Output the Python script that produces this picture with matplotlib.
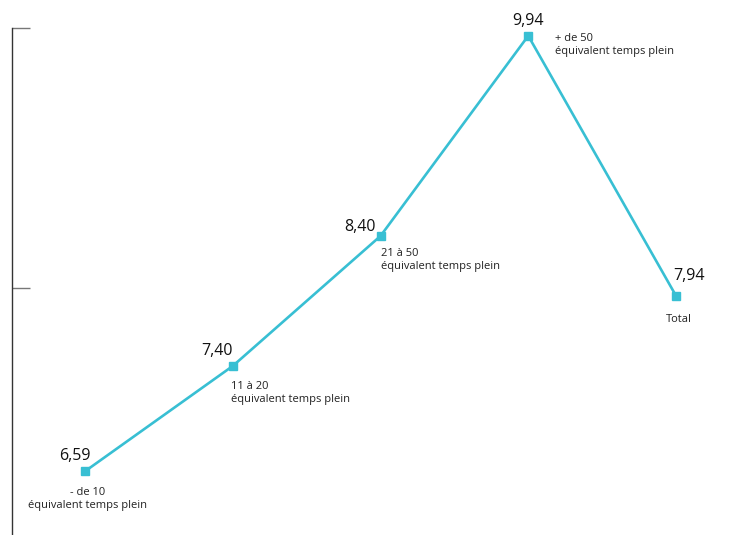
import matplotlib.pyplot as plt

plt.rcParams['font.family'] = ['Open Sans', 'DejaVu Sans']

categories = ["- de 10\néquivalent temps plein",
              "11 à 20\néquivalent temps plein",
              "21 à 50\néquivalent temps plein",
              "+ de 50\néquivalent temps plein",
              "Total"]
values = [6.59, 7.40, 8.40, 9.94, 7.94]
value_labels = ["6,59", "7,40", "8,40", "9,94", "7,94"]

color = '#38bfd3'

fig = plt.figure(figsize=(7.39, 5.35), dpi=100)
ax = fig.add_axes([12 / 739, 0, 727 / 739, 507 / 535])

x = list(range(len(values)))
ax.plot(x, values, color=color, lw=1.9, marker='s', ms=6, mec=color, mfc=color)

# label placement (offsets in points) for value / category text
val_off = [(-7, 11), (-11, 10.5), (-14.5, 6.5), (0, 11), (9.5, 14.5)]
cat_off = [(2, -11), (-1.5, -10.5), (0.5, -9), (19.5, 2), (2, -13)]
cat_ha = ['center', 'left', 'left', 'left', 'center']

for i, v in enumerate(values):
    ax.annotate(value_labels[i], (i, v), xytext=val_off[i], textcoords='offset points',
                ha='center', va='center', fontsize=11.5, color='#111111')
    ax.annotate(categories[i], (i, v), xytext=cat_off[i], textcoords='offset points',
                ha=cat_ha[i], va='top', fontsize=8, color='#222222',
                linespacing=1.25)

ax.set_xlim(-73 / 147.75, 4 + 63 / 147.75)
ax.set_ylim(6.1, 10)
ax.set_yticks([8, 10])
ax.set_yticklabels([])
ax.tick_params(axis='y', direction='in', length=13, width=1, color='#777777')
ax.set_xticks([])
for s in ['top', 'right', 'bottom']:
    ax.spines[s].set_visible(False)
ax.spines['left'].set_color('#333333')
ax.spines['left'].set_linewidth(1)

fig.savefig('out.png', dpi=100)
